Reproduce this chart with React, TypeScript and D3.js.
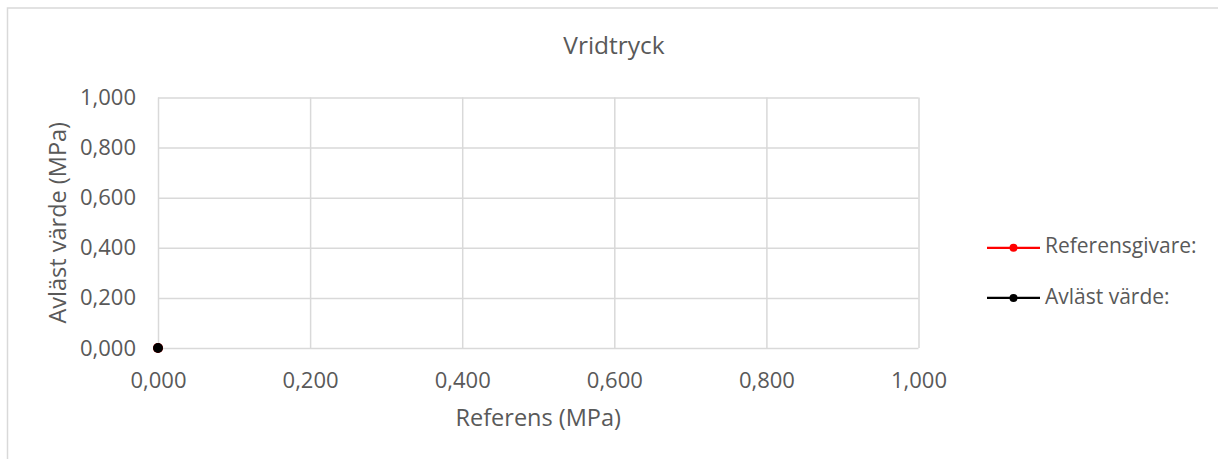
import React, { useEffect, useRef } from 'react';
import * as d3 from 'd3';

const width = 1218;
const height = 459;
const margin = { top: 97.5, right: 299.5, bottom: 111, left: 158 };
const font = '"Open Sans", "Noto Sans", sans-serif';
const textColor = '#595959';
const gridColor = '#d9d9d9';

// data
const seriesNames = ['Referensgivare:', 'Avläst värde:'];
const seriesColors = ['#ff0000', '#000000'];
const referensX = [0];
const referensY = [0];
const avlastX = [0];
const avlastY = [0];
const xTicks = [0, 0.2, 0.4, 0.6, 0.8, 1.0];
const yTicks = [0, 0.2, 0.4, 0.6, 0.8, 1.0];

const svLocale = d3.formatLocale({ decimal: ',', thousands: ' ', grouping: [3], currency: ['', ' kr'] });
const fmt = svLocale.format('.3f');

const innerW = width - margin.left - margin.right;
const innerH = height - margin.top - margin.bottom;

const xScale = d3.scaleLinear().domain([0, 1]).range([margin.left, margin.left + innerW]);
const yScale = d3.scaleLinear().domain([0, 1]).range([margin.top + innerH, margin.top]);

const series = [
  { name: seriesNames[0], color: seriesColors[0], pts: referensX.map((x, i) => [x, referensY[i]]) },
  { name: seriesNames[1], color: seriesColors[1], pts: avlastX.map((x, i) => [x, avlastY[i]]) }
];

export default function App() {
  const xAxisRef = useRef<SVGGElement>(null);
  const yAxisRef = useRef<SVGGElement>(null);

  useEffect(() => {
    const xAxis = d3.axisBottom(xScale).tickValues(xTicks).tickFormat(d => fmt(d as number)).tickSize(-innerH).tickPadding(24);
    const yAxis = d3.axisLeft(yScale).tickValues(yTicks).tickFormat(d => fmt(d as number)).tickSize(-innerW).tickPadding(22);
    const gx = d3.select(xAxisRef.current).call(xAxis);
    const gy = d3.select(yAxisRef.current).call(yAxis);
    [gx, gy].forEach(g => {
      g.select('.domain').remove();
      g.selectAll('.tick line').attr('stroke', gridColor).attr('stroke-width', 1.5);
      g.selectAll('.tick text').attr('fill', textColor).style('font-family', font).style('font-size', '22px');
    });
  }, []);

  const line = d3.line<number[]>().x(d => xScale(d[0])).y(d => yScale(d[1]));

  return (
    <svg width={width} height={height} style={{ position: 'absolute', left: 0, top: 0 }}>
      <rect x={0} y={0} width={width} height={height} fill="#fff" />
      <rect x={7.5} y={8} width={width + 20} height={height + 20} fill="none" stroke={gridColor} strokeWidth={1.5} />
      <text x={614} y={47} textAnchor="middle" dominantBaseline="middle" fill={textColor} style={{ fontFamily: font, fontSize: 24.5 }}>
        Vridtryck
      </text>
      <g ref={yAxisRef} transform={`translate(${margin.left}, 0)`} />
      <g ref={xAxisRef} transform={`translate(0, ${margin.top + innerH})`} />
      {series.map(s => (
        <g key={s.name}>
          <path d={line(s.pts) || ''} stroke={s.color} strokeWidth={2.25} fill="none" />
          {s.pts.map((p, i) => (
            <circle key={i} cx={xScale(p[0])} cy={yScale(p[1])} r={5} fill={s.color} />
          ))}
        </g>
      ))}
      <text x={margin.left + innerW / 2} y={420} textAnchor="middle" dominantBaseline="middle" fill={textColor} style={{ fontFamily: font, fontSize: 23.5 }}>
        Referens (MPa)
      </text>
      <text transform={`translate(60, ${margin.top + innerH / 2}) rotate(-90)`} textAnchor="middle" dominantBaseline="middle" fill={textColor} style={{ fontFamily: font, fontSize: 23.5 }}>
        Avläst värde (MPa)
      </text>
      {series.map((s, i) => {
        const ly = yScale(yTicks[2 - i]);
        return (
          <g key={s.name} transform={`translate(987, ${ly})`}>
            <line x1={0} x2={53} y1={0} y2={0} stroke={s.color} strokeWidth={2.25} />
            <circle cx={26.5} cy={0} r={4} fill={s.color} />
            <text x={58} y={0} dominantBaseline="middle" fill={textColor} style={{ fontFamily: font, fontSize: 21 }}>
              {s.name}
            </text>
          </g>
        );
      })}
    </svg>
  );
}
